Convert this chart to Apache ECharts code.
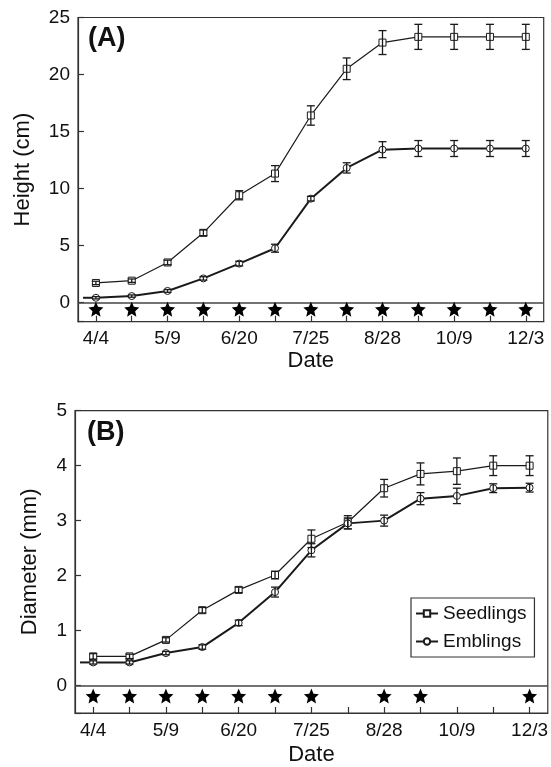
<!DOCTYPE html>
<html>
<head>
<meta charset="utf-8">
<script src="https://cdn.jsdelivr.net/npm/echarts@6/dist/echarts.min.js"></script>
<style>
  html, body { margin: 0; padding: 0; background: #fff; }
  #chart { width: 551px; height: 767px; }
</style>
</head>
<body>
<div id="chart"></div>
<script>
// ---- data ----
const dateLabels = ['4/4', '', '5/9', '', '6/20', '', '7/25', '', '8/28', '', '10/9', '', '12/3'];

const heightSeedlings    = [1.7, 1.9, 3.5, 6.1, 9.4, 11.3, 16.4, 20.5, 22.8, 23.3, 23.3, 23.3, 23.3];
const heightSeedlingsErr = [0.15, 0.15, 0.2, 0.25, 0.4, 0.7, 0.85, 0.95, 1.05, 1.1, 1.1, 1.1, 1.1];
const heightEmblings     = [0.4, 0.55, 1.0, 2.1, 3.4, 4.75, 9.1, 11.8, 13.4, 13.5, 13.5, 13.5, 13.5];
const heightEmblingsErr  = [0.1, 0.1, 0.12, 0.15, 0.2, 0.35, 0.2, 0.45, 0.7, 0.7, 0.7, 0.7, 0.7];

const diamSeedlings    = [0.53, 0.53, 0.83, 1.37, 1.74, 2.01, 2.67, 2.97, 3.59, 3.85, 3.9, 4.0, 4.0];
const diamSeedlingsErr = [0.05, 0.04, 0.04, 0.05, 0.05, 0.07, 0.16, 0.12, 0.16, 0.2, 0.24, 0.18, 0.18];
const diamEmblings     = [0.42, 0.42, 0.59, 0.7, 1.14, 1.7, 2.46, 2.95, 3.0, 3.4, 3.45, 3.59, 3.6];
const diamEmblingsErr  = [0.03, 0.03, 0.03, 0.04, 0.05, 0.09, 0.12, 0.1, 0.1, 0.11, 0.14, 0.08, 0.08];

const starsA = [0, 1, 2, 3, 4, 5, 6, 7, 8, 9, 10, 11, 12];
const starsB = [0, 1, 2, 3, 4, 5, 6, 8, 9, 12];

// ---- styling ----
const FONT = '"Liberation Sans", Arial, Helvetica, sans-serif';
const INK = '#1a1a1a';
const STAR = 'path://M50,0 L63.5,31.4 L97.6,34.5 L71.9,57.1 L79.4,90.5 L50,73 L20.6,90.5 L28.1,57.1 L2.4,34.5 L36.5,31.4 Z';

function errData(vals, errs) { return vals.map((v, i) => [i, v, errs[i]]); }

function errRender(params, api) {
  const x = api.value(0), y = api.value(1), e = api.value(2);
  const hi = api.coord([x, y + e]);
  const lo = api.coord([x, y - e]);
  const w = 4;
  const st = { stroke: INK, lineWidth: 1.3 };
  return {
    type: 'group',
    children: [
      { type: 'line', shape: { x1: hi[0], y1: hi[1], x2: lo[0], y2: lo[1] }, style: st },
      { type: 'line', shape: { x1: hi[0] - w, y1: hi[1], x2: hi[0] + w, y2: hi[1] }, style: st },
      { type: 'line', shape: { x1: lo[0] - w, y1: lo[1], x2: lo[0] + w, y2: lo[1] }, style: st }
    ]
  };
}

function leadRender(params, api) {
  const p = api.coord([api.value(0), api.value(1)]);
  return {
    type: 'line',
    shape: { x1: params.coordSys.x + 5, y1: p[1], x2: p[0], y2: p[1] },
    style: { stroke: INK, lineWidth: 2 }
  };
}

function xAxisDef(gi, gap) {
  return {
    type: 'category', gridIndex: gi, data: dateLabels, boundaryGap: true,
    axisLine: { show: true, onZero: false, lineStyle: { color: '#333', width: 1.2 } },
    axisTick: { show: true, inside: true, alignWithLabel: true, length: 6, interval: 0,
                lineStyle: { color: '#333', width: 1.2 } },
    axisLabel: { interval: 0, fontSize: 19, color: '#111', margin: 8, fontFamily: FONT },
    splitLine: { show: false },
    name: 'Date', nameLocation: 'middle', nameGap: gap,
    nameTextStyle: { fontSize: 22, color: '#111', fontFamily: FONT }
  };
}

function yAxisDef(gi, min, max, step, name, gap) {
  return {
    type: 'value', gridIndex: gi, min: min, max: max,
    axisLine: { show: true, lineStyle: { color: '#333', width: 1.2 } },
    axisTick: { show: true, inside: true, length: 6, lineStyle: { color: '#333', width: 1.2 } },
    axisLabel: {
      fontSize: 19, color: '#111', margin: 8, fontFamily: FONT,
      formatter: v => (Math.abs(v / step - Math.round(v / step)) < 1e-6 ? String(Math.round(v)) : '')
    },
    splitLine: { show: false },
    name: name, nameLocation: 'middle', nameGap: gap, nameRotate: 90,
    nameTextStyle: { fontSize: 22, color: '#111', fontFamily: FONT }
  };
}

function panelSeries(gi, seed, seedErr, emb, embErr, stars, starY) {
  return [
    {
      name: 'Seedlings', type: 'line', xAxisIndex: gi, yAxisIndex: gi, data: seed,
      symbol: 'rect', symbolSize: 7, showSymbol: true, z: 2,
      lineStyle: { color: INK, width: 1.2 },
      itemStyle: { color: '#fff', borderColor: INK, borderWidth: 1 }
    },
    {
      name: 'Emblings', type: 'line', xAxisIndex: gi, yAxisIndex: gi, data: emb,
      symbol: 'circle', symbolSize: 7, showSymbol: true, z: 2,
      lineStyle: { color: INK, width: 2 },
      itemStyle: { color: '#fff', borderColor: INK, borderWidth: 1 },
      markLine: {
        silent: true, symbol: 'none', label: { show: false },
        lineStyle: { color: '#444', width: 1.5, type: 'solid' },
        data: [{ yAxis: 0 }]
      }
    },
    {
      type: 'custom', xAxisIndex: gi, yAxisIndex: gi, z: 4, silent: true,
      renderItem: errRender, data: errData(seed, seedErr), encode: { x: 0, y: 1 }
    },
    {
      type: 'custom', xAxisIndex: gi, yAxisIndex: gi, z: 4, silent: true,
      renderItem: errRender, data: errData(emb, embErr), encode: { x: 0, y: 1 }
    },
    {
      type: 'custom', xAxisIndex: gi, yAxisIndex: gi, z: 1, silent: true,
      renderItem: leadRender, data: [[0, emb[0]]], encode: { x: 0, y: 1 }
    },
    {
      type: 'scatter', xAxisIndex: gi, yAxisIndex: gi, silent: true, z: 5,
      symbol: STAR, symbolSize: 15, itemStyle: { color: '#000', opacity: 1 },
      data: stars.map(i => [i, starY])
    }
  ];
}

const chart = echarts.init(document.getElementById('chart'), null, { renderer: 'canvas' });

chart.setOption({
  animation: false,
  backgroundColor: '#fff',
  textStyle: { fontFamily: FONT },
  grid: [
    { left: 78, top: 17.5, width: 465.7, height: 304.2, show: true, borderColor: '#333', borderWidth: 1.2, containLabel: false },
    { left: 75, top: 410.7, width: 475.3, height: 303.6, show: true, borderColor: '#333', borderWidth: 1.2, containLabel: false }
  ],
  xAxis: [xAxisDef(0, 26), xAxisDef(1, 31)],
  yAxis: [
    yAxisDef(0, -1.7, 25, 5, 'Height (cm)', 44),
    yAxisDef(1, -0.5, 5, 1, 'Diameter (mm)', 34)
  ],
  legend: {
    data: ['Seedlings', 'Emblings'],
    orient: 'vertical', left: 411, top: 598,
    itemWidth: 22, itemHeight: 8, itemGap: 9,
    padding: [6, 8, 6, 4],
    borderColor: '#333', borderWidth: 1.2,
    selectedMode: false,
    textStyle: { fontSize: 19, color: '#111', fontFamily: FONT }
  },
  graphic: [
    { type: 'text', left: 88, top: 25, style: { text: '(A)', font: 'bold 27px ' + FONT, fill: '#111' } },
    { type: 'text', left: 87, top: 419, style: { text: '(B)', font: 'bold 27px ' + FONT, fill: '#111' } }
  ],
  series: [].concat(
    panelSeries(0, heightSeedlings, heightSeedlingsErr, heightEmblings, heightEmblingsErr, starsA, -0.6),
    panelSeries(1, diamSeedlings, diamSeedlingsErr, diamEmblings, diamEmblingsErr, starsB, -0.19)
  )
});
</script>
</body>
</html>
